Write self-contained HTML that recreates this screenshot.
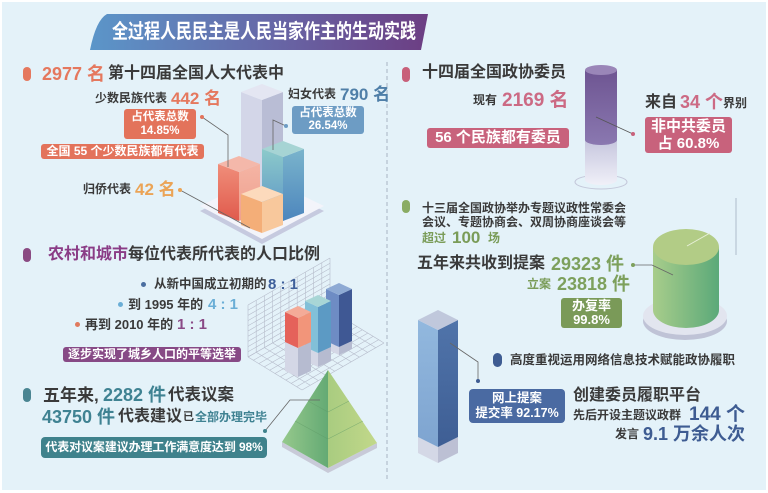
<!DOCTYPE html>
<html><head><meta charset="utf-8"><style>
*{margin:0;padding:0}
body{width:768px;height:493px;background:#fff;position:relative;overflow:hidden;font-family:"Liberation Sans","Noto Sans CJK SC",sans-serif;font-weight:bold;color:#3a3a3a}
.t{position:absolute;white-space:nowrap;line-height:1}
.b{position:absolute;color:#fff;text-align:center;border-radius:3px;white-space:nowrap}
.p{position:absolute;border-radius:5px}
svg{position:absolute;left:0;top:0}
</style></head><body>
<svg width="768" height="493" viewBox="0 0 768 493">
<defs>
<linearGradient id="gt" x1="0" x2="1" y1="0" y2="0"><stop offset="0" stop-color="#5b96c9"/><stop offset="0.55" stop-color="#6766a6"/><stop offset="1" stop-color="#6c3e83"/></linearGradient>
<linearGradient id="redL" x1="0" x2="0" y1="0" y2="1"><stop offset="0" stop-color="#f08e7a"/><stop offset="1" stop-color="#e05a4c"/></linearGradient>
<linearGradient id="redR" x1="0" x2="0" y1="0" y2="1"><stop offset="0" stop-color="#f4b4a4"/><stop offset="1" stop-color="#f0a08e"/></linearGradient>
<linearGradient id="tealL" x1="0" x2="0" y1="0" y2="1"><stop offset="0" stop-color="#8ccaca"/><stop offset="1" stop-color="#5a92c6"/></linearGradient>
<linearGradient id="tealR" x1="0" x2="0" y1="0" y2="1"><stop offset="0" stop-color="#7ab4cc"/><stop offset="1" stop-color="#4d86bd"/></linearGradient>
<linearGradient id="pb" x1="0" x2="0" y1="0" y2="1"><stop offset="0" stop-color="#6e5592"/><stop offset="1" stop-color="#8a78b0"/></linearGradient>
<linearGradient id="lc" x1="0" x2="0" y1="0" y2="1"><stop offset="0" stop-color="#c6c6de"/><stop offset="1" stop-color="#f0f0f8"/></linearGradient>
<linearGradient id="gb" x1="0" x2="1" y1="0" y2="0"><stop offset="0" stop-color="#a8cd8b"/><stop offset="1" stop-color="#5ba979"/></linearGradient>
<linearGradient id="pyL" x1="0" x2="1" y1="0" y2="0"><stop offset="0" stop-color="#96c98c"/><stop offset="1" stop-color="#64aa74"/></linearGradient>
<linearGradient id="pyR" x1="0" x2="1" y1="0" y2="0"><stop offset="0" stop-color="#a9cc80"/><stop offset="1" stop-color="#c2d88a"/></linearGradient>
<linearGradient id="blL" x1="0" x2="0" y1="0" y2="1"><stop offset="0" stop-color="#92b8de"/><stop offset="1" stop-color="#7ea4d0"/></linearGradient>
<linearGradient id="blR" x1="0" x2="0" y1="0" y2="1"><stop offset="0" stop-color="#5074aa"/><stop offset="1" stop-color="#3e5e94"/></linearGradient>
</defs>
<rect x="2" y="2" width="764" height="488" fill="#e4f2f9"/>
<line x1="387" y1="62" x2="387" y2="482" stroke="#a8b4c4" stroke-width="1" stroke-dasharray="4 3"/>
<path d="M107,14 L428,14 L421,50 L90,50 Q96,20 107,14 Z" fill="url(#gt)"/>

<polygon points="200,211 262,181 324,211 262,244" fill="#c6cadf"/>
<polygon points="200,206 262,176 324,206 262,239" fill="#f3f4fa"/>
<polygon points="241,92 262,100 262,205 241,197" fill="#d3d6e8"/>
<polygon points="262,100 283,92 283,197 262,205" fill="#b9bdd5"/>
<polygon points="262,100 241,92 262,84 283,92" fill="#e4e6f2"/>
<polygon points="218,164 239,172 239,221 218,213" fill="url(#redL)"/>
<polygon points="239,172 260,164 260,213 239,221" fill="url(#redR)"/>
<polygon points="239,172 218,164 239,156 260,164" fill="#f4b8aa"/>
<polygon points="262,149 283,157 283,221 262,213" fill="url(#tealL)"/>
<polygon points="283,157 304,149 304,213 283,221" fill="url(#tealR)"/>
<polygon points="283,157 262,149 283,141 304,149" fill="#a6d4d4"/>
<polygon points="241,194 262,202 262,233 241,225" fill="#f4ae78"/>
<polygon points="262,202 283,194 283,225 262,233" fill="#f8c89c"/>
<polygon points="262,202 241,194 262,186 283,194" fill="#fcdabc"/>
<g stroke="#666" stroke-width="0.8" fill="none">
<polyline points="202,117 228,135 228,167"/>
<polyline points="180,190 250,228"/>
<polyline points="286,126 273,120 273,150"/>
</g>
<circle cx="202" cy="117" r="2" fill="#e3735b"/>
<circle cx="180" cy="190" r="2" fill="#eba456"/>
<circle cx="286" cy="126" r="2" fill="#6d9cc4"/>

<g fill="none" stroke="#b6bccb">
<path transform="matrix(8.2,-4.7,0,-5.2,248,357)" vector-effect="non-scaling-stroke" stroke-width="0.6" d="M0,0H10M0,1H10M0,2H10M0,3H10M0,4H10M0,5H10M0,6H10M0,7H10M0,8H10M0,9H10M0,10H10M0,0V10M1,0V10M2,0V10M3,0V10M4,0V10M5,0V10M6,0V10M7,0V10M8,0V10M9,0V10M10,0V10"/>
<path transform="matrix(8.2,-4.7,5.4,3.3,248,357)" vector-effect="non-scaling-stroke" stroke-width="0.6" d="M0,0H10M0,1H10M0,2H10M0,3H10M0,4H10M0,5H10M0,6H10M0,7H10M0,8H10M0,9H10M0,10H10M0,0V10M1,0V10M2,0V10M3,0V10M4,0V10M5,0V10M6,0V10M7,0V10M8,0V10M9,0V10M10,0V10"/>
</g>
<polygon points="326,341 339,347 339,355 326,349" fill="#d4d7e6"/>
<polygon points="339,347 352,341 352,349 339,355" fill="#b6bbd0"/>
<polygon points="326,289 339,295 339,347 326,341" fill="#6e8cc4"/>
<polygon points="339,295 352,289 352,341 339,347" fill="#3f5894"/>
<polygon points="339,295 326,289 339,283 352,289" fill="#8eaad4"/>
<polygon points="305,347 318,353 318,367 305,361" fill="#d4d7e6"/>
<polygon points="318,353 331,347 331,361 318,367" fill="#b6bbd0"/>
<polygon points="305,301 318,307 318,353 305,347" fill="#82c0d8"/>
<polygon points="318,307 331,301 331,347 318,353" fill="#5c9ac4"/>
<polygon points="318,307 305,301 318,295 331,301" fill="#a8d6d6"/>
<polygon points="285,342 298,348 298,377 285,371" fill="#d4d7e6"/>
<polygon points="298,348 311,342 311,371 298,377" fill="#b6bbd0"/>
<polygon points="285,312 298,318 298,348 285,342" fill="#e5625a"/>
<polygon points="298,318 311,312 311,342 298,348" fill="#f2957a"/>
<polygon points="298,318 285,312 298,306 311,312" fill="#f4ab98"/>

<polygon points="282,442 328,468 377,443 377,448 328,473 282,447" fill="#c8cad8"/>
<polygon points="328,370 282,442 328,468" fill="url(#pyL)"/>
<polygon points="328,370 328,468 377,443" fill="url(#pyR)"/>
<g stroke="#5e9a66" stroke-width="0.6" opacity="0.6">
<line x1="308" y1="401" x2="328" y2="412"/>
<line x1="295" y1="421" x2="328" y2="439"/>
<line x1="328" y1="412" x2="349" y2="401"/>
<line x1="328" y1="439" x2="363" y2="421"/>
</g>
<polyline points="265,431 290,400 320,400" fill="none" stroke="#666" stroke-width="0.8"/>
<circle cx="265" cy="431" r="2" fill="#3f828c"/>

<ellipse cx="601" cy="182" rx="26" ry="7" fill="none" stroke="#c4c8da" stroke-width="1"/>
<path d="M585,140 L585,180 A16,5 0 0,0 617,180 L617,140 Z" fill="url(#lc)"/>
<path d="M585,70 L585,140 A16,5 0 0,0 617,140 L617,70 Z" fill="url(#pb)"/>
<ellipse cx="601" cy="70" rx="16" ry="5" fill="#9a86b8"/>
<polyline points="633,134 596,117" fill="none" stroke="#555" stroke-width="0.8"/>
<circle cx="633" cy="134" r="2" fill="#c8627c"/>

<line x1="736" y1="198" x2="736" y2="255" stroke="#aebccb" stroke-width="1"/>
<ellipse cx="685" cy="321" rx="42" ry="19" fill="#bfc3d6"/>
<ellipse cx="685" cy="316" rx="42" ry="19" fill="#e2e5ef"/>
<path d="M653,247 L653,310 A33,18 0 0,0 719,310 L719,247 Z" fill="url(#gb)"/>
<ellipse cx="686" cy="247" rx="33" ry="18" fill="#b2cc86"/>
<line x1="687" y1="246" x2="710" y2="233" stroke="#e8f0d8" stroke-width="1"/>
<polyline points="633,265 652,265 673,275" fill="none" stroke="#666" stroke-width="0.8"/>
<circle cx="633" cy="265" r="2" fill="#7da05c"/>

<polygon points="418,437 438,447 438,463 418,453" fill="#d4d8e6"/>
<polygon points="438,447 458,437 458,453 438,463" fill="#bcc0d4"/>
<polygon points="418,320 438,330 438,447 418,437" fill="url(#blL)"/>
<polygon points="438,330 458,320 458,437 438,447" fill="url(#blR)"/>
<polygon points="438,330 418,320 438,310 458,320" fill="#c0c8dc"/>
<polyline points="450,343 478,362 478,381" fill="none" stroke="#666" stroke-width="0.8"/>
<circle cx="478" cy="381" r="2" fill="#3e5c92"/>
</svg>

<div class="t" style="left:112px;top:22px;font-size:20px;color:#fff;transform:scaleX(0.8);transform-origin:left top">全过程人民民主是人民当家作主的生动实践</div>

<div class="p" style="left:23px;top:67px;width:8px;height:14px;background:#e5785e"></div>
<div class="t" style="left:42px;top:65px;font-size:18px;color:#e5785e">2977 名</div>
<div class="t" style="left:108px;top:66px;font-size:16px">第十四届全国人大代表中</div>
<div class="t" style="left:95px;top:92px;font-size:12px">少数民族代表</div>
<div class="t" style="left:171px;top:90px;font-size:17px;color:#e5785e">442 名</div>
<div class="b" style="left:124px;top:109px;width:72px;height:30px;background:#e3735b;font-size:11.5px;line-height:14px;padding-top:1px;box-sizing:border-box">占代表总数<br>14.85%</div>
<div class="b" style="left:41px;top:144px;width:163px;height:15px;background:#e3735b;font-size:12px;line-height:15px">全国 55 个少数民族都有代表</div>
<div class="t" style="left:83px;top:183px;font-size:12px">归侨代表</div>
<div class="t" style="left:135px;top:181px;font-size:17px;color:#eba456">42 名</div>
<div class="t" style="left:288px;top:88px;font-size:12px">妇女代表</div>
<div class="t" style="left:340px;top:86px;font-size:17px;color:#4f7fa8">790 名</div>
<div class="b" style="left:292px;top:106px;width:72px;height:28px;background:#6d9cc4;font-size:11.5px;line-height:13px;padding-top:1px;box-sizing:border-box">占代表总数<br>26.54%</div>

<div class="p" style="left:23px;top:248px;width:8px;height:14px;background:#8a4a82"></div>
<div class="t" style="left:48px;top:247px;font-size:16px;color:#8a3c86">农村和城市</div>
<div class="t" style="left:128px;top:247px;font-size:16px">每位代表所代表的人口比例</div>
<div class="p" style="left:141px;top:282px;width:5px;height:5px;border-radius:3px;background:#4a6ea0"></div>
<div class="t" style="left:154px;top:278px;font-size:12.5px">从新中国成立初期的</div>
<div class="t" style="left:268px;top:277px;font-size:15px;color:#3e5f9a">8 : 1</div>
<div class="p" style="left:118px;top:302px;width:5px;height:5px;border-radius:3px;background:#6aaed6"></div>
<div class="t" style="left:128px;top:298px;font-size:13px">到 1995 年的</div>
<div class="t" style="left:208px;top:297px;font-size:15px;color:#6aaed6">4 : 1</div>
<div class="p" style="left:75px;top:322px;width:5px;height:5px;border-radius:3px;background:#e07a5e"></div>
<div class="t" style="left:85px;top:318px;font-size:13px">再到 2010 年的</div>
<div class="t" style="left:177px;top:317px;font-size:15px;color:#8a4a86">1 : 1</div>
<div class="b" style="left:63px;top:347px;width:178px;height:15px;background:#874a86;font-size:12px;line-height:15px">逐步实现了城乡人口的平等选举</div>

<div class="p" style="left:23px;top:388px;width:8px;height:14px;background:#4a8592"></div>
<div class="t" style="left:43px;top:387px;font-size:17px">五年来,</div>
<div class="t" style="left:103px;top:386px;font-size:18px;color:#3f8292">2282 件</div>
<div class="t" style="left:168px;top:387px;font-size:16.5px">代表议案</div>
<div class="t" style="left:42px;top:408px;font-size:18px;color:#3f8292">43750 件</div>
<div class="t" style="left:118px;top:409px;font-size:16px">代表建议</div>
<div class="t" style="left:183px;top:412px;font-size:11px">已</div>
<div class="t" style="left:195px;top:411px;font-size:12px;color:#3f8292">全部办理完毕</div>
<div class="b" style="left:41px;top:437px;width:226px;height:21px;background:#3f828c;border-radius:4px;font-size:12px;line-height:21px;letter-spacing:-0.1px">代表对议案建议办理工作满意度达到 98%</div>

<div class="p" style="left:402px;top:67px;width:8px;height:15px;background:#c8607a"></div>
<div class="t" style="left:422px;top:65px;font-size:16px">十四届全国政协委员</div>
<div class="t" style="left:473px;top:94px;font-size:12px">现有</div>
<div class="t" style="left:502px;top:91px;font-size:19px;color:#cc6a84">2169 名</div>
<div class="b" style="left:427px;top:128px;width:142px;height:20px;background:#c8627c;font-size:15px;line-height:20px">56 个民族都有委员</div>
<div class="t" style="left:645px;top:95px;font-size:16px">来自</div>
<div class="t" style="left:680px;top:93px;font-size:18px;color:#cc6a84">34 个</div>
<div class="t" style="left:723px;top:97px;font-size:12px">界别</div>
<div class="b" style="left:645px;top:117px;width:87px;height:36px;background:#c8627c;font-size:15px;line-height:17px;padding-top:1px;box-sizing:border-box">非中共委员<br>占 60.8%</div>

<div class="p" style="left:402px;top:200px;width:8px;height:13px;background:#8aac64"></div>
<div class="t" style="left:422px;top:202px;font-size:12px">十三届全国政协举办专题议政性常委会</div>
<div class="t" style="left:422px;top:216px;font-size:12px">会议、专题协商会、双周协商座谈会等</div>
<div class="t" style="left:422px;top:232px;font-size:12px;color:#7a9c58">超过</div>
<div class="t" style="left:452px;top:229px;font-size:17px;color:#7a9c58">100</div>
<div class="t" style="left:488px;top:232px;font-size:12px;color:#7a9c58">场</div>
<div class="t" style="left:417px;top:256px;font-size:16px">五年来共收到提案</div>
<div class="t" style="left:551px;top:255px;font-size:18px;color:#7da05c">29323 件</div>
<div class="t" style="left:527px;top:278px;font-size:12px;color:#7a9c58">立案</div>
<div class="t" style="left:557px;top:275px;font-size:18px;color:#7da05c">23818 件</div>
<div class="b" style="left:561px;top:298px;width:61px;height:30px;background:#7a9a58;font-size:13px;line-height:14px;padding-top:1px;box-sizing:border-box">办复率<br>99.8%</div>

<div class="p" style="left:493px;top:353px;width:9px;height:14px;background:#3e5c92"></div>
<div class="t" style="left:510px;top:354px;font-size:12.5px">高度重视运用网络信息技术赋能政协履职</div>
<div class="b" style="left:469px;top:389px;width:96px;height:34px;background:#4a6aa2;border-radius:4px;font-size:12.5px;line-height:15px;padding-top:2px;box-sizing:border-box">网上提案<br>提交率 92.17%</div>
<div class="t" style="left:573px;top:388px;font-size:16px">创建委员履职平台</div>
<div class="t" style="left:573px;top:409px;font-size:12px">先后开设主题议政群</div>
<div class="t" style="left:689px;top:405px;font-size:19px;color:#3e5c92">144 个</div>
<div class="t" style="left:615px;top:428px;font-size:12px">发言</div>
<div class="t" style="left:643px;top:425px;font-size:18px;color:#3e5c92">9.1 万余人次</div>
</body></html>
